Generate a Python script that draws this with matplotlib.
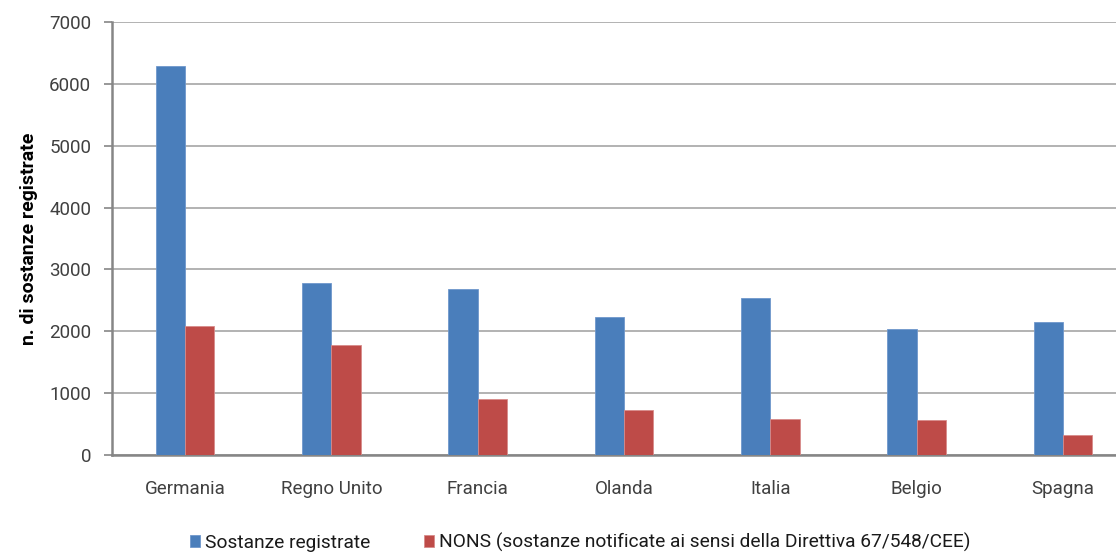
import matplotlib
matplotlib.use("Agg")
import matplotlib.pyplot as plt
import numpy as np

plt.rcParams["font.family"] = ["Roboto", "DejaVu Sans"]

paesi = ["Germania", "Regno Unito", "Francia", "Olanda", "Italia", "Belgio", "Spagna"]
registrate = [6285, 2780, 2680, 2220, 2528, 2030, 2144]
nons = [2085, 1777, 891, 718, 567, 551, 318]

lab_reg = "Sostanze registrate"
lab_nons = "NONS (sostanze notificate ai sensi della Direttiva 67/548/CEE)"

blu = "#4a7ebb"
rosso = "#be4b48"

fig = plt.figure(figsize=(11.16, 5.52), dpi=100)
# the plot area runs a little past the right edge of the picture
ax = fig.add_axes([112 / 1116, 97.5 / 552, 1024 / 1116, 432.2 / 552])

x = np.arange(len(paesi))
w = 0.2
ax.bar(x - w / 2, registrate, w, color=blu, edgecolor="#6f97cc", linewidth=0.6,
       label=lab_reg, zorder=3)
ax.bar(x + w / 2, nons, w, color=rosso, edgecolor="#d88c8a", linewidth=0.6,
       label=lab_nons, zorder=3)

ax.set_xlim(-0.5, len(paesi) - 0.5)
ax.set_ylim(0, 7000)
ax.set_yticks(np.arange(0, 7001, 1000))
ax.set_xticks(x)
ax.set_xticklabels(paesi)

ax.yaxis.grid(True, color="#a6a6a6", linewidth=1.2, zorder=0)
ax.set_axisbelow(True)
for s in ["top", "right"]:
    ax.spines[s].set_visible(False)
for s in ["left", "bottom"]:
    ax.spines[s].set_color("#868686")
    ax.spines[s].set_linewidth(1.8)

ax.tick_params(axis="y", length=6, width=1.2, color="#868686", labelsize=13.5,
               labelcolor="#404040", pad=9)
ax.tick_params(axis="x", length=0, labelsize=13.5, labelcolor="#404040", pad=18)

ax.set_ylabel("n. di sostanze registrate", fontsize=14, fontweight="bold",
              color="black", labelpad=8)

fig.legend(loc="lower left", bbox_to_anchor=(190 / 1116, 0.0), ncol=2,
           frameon=False, fontsize=13.8, handlelength=0.52, handleheight=0.52,
           handletextpad=0.26, columnspacing=2.8, borderpad=0,
           borderaxespad=0, labelcolor="#1a1a1a")

fig.savefig("out.png", dpi=100, facecolor="white")
